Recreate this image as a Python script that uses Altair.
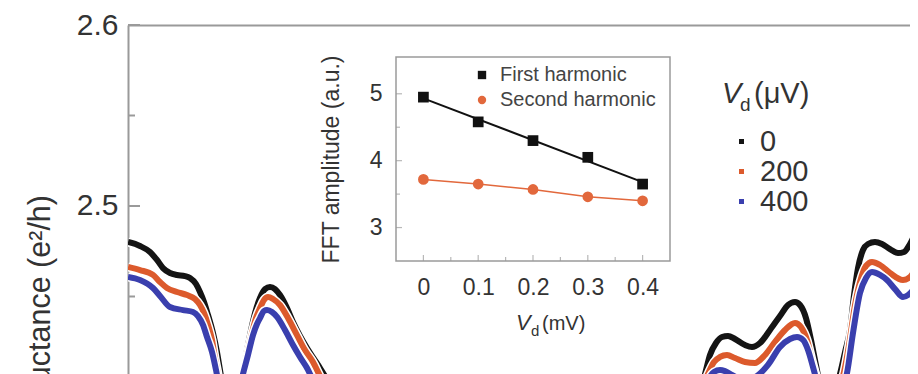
import altair as alt
import pandas as pd

FONT = "Liberation Sans"
TXT = "#333333"
FRAME = "#9a9a9a"

# ---------------- main panel: conductance traces (x in arbitrary gate units) ----------------
series_names = ["0", "200", "400"]
series_colors = ["#141414", "#dc5a2c", "#3a3fae"]

black_x = [0.00, 0.12, 0.22, 0.29, 0.35, 0.42, 0.49, 0.57, 0.62, 0.68, 0.72, 0.76, 0.80, 0.85, 0.89, 0.93,
           0.98, 1.04, 1.11, 1.15, 1.19, 1.22, 1.27, 1.32, 1.37, 1.42, 1.47, 1.52, 1.59, 1.65, 1.72, 1.79,
           1.86, 1.92, 1.98, 2.07, 2.80, 3.80, 4.80, 5.60, 5.72, 5.77, 5.82, 5.88, 5.94, 6.00, 6.07, 6.17,
           6.24, 6.32, 6.42, 6.52, 6.60, 6.67, 6.72, 6.78, 6.83, 6.87, 6.91, 6.98, 7.06, 7.12, 7.17, 7.22,
           7.26, 7.30, 7.35, 7.40, 7.47, 7.54, 7.62, 7.70, 7.76, 7.82, 7.90]
black_y = [2.4801, 2.4779, 2.4746, 2.4702, 2.4657, 2.4630, 2.4619, 2.4613, 2.4602, 2.4569, 2.4525, 2.4470,
           2.4398, 2.4298, 2.4193, 2.4061, 2.3928, 2.3873, 2.3983, 2.4083, 2.4204, 2.4287, 2.4409, 2.4492,
           2.4541, 2.4552, 2.4541, 2.4508, 2.4436, 2.4359, 2.4282, 2.4215, 2.4155, 2.4105, 2.4050, 2.3956,
           2.3818, 2.3818, 2.3818, 2.3873, 2.3983, 2.4072, 2.4177, 2.4243, 2.4276, 2.4282, 2.4265, 2.4232,
           2.4221, 2.4243, 2.4315, 2.4392, 2.4453, 2.4470, 2.4453, 2.4381, 2.4260, 2.4149, 2.4039, 2.3928,
           2.3972, 2.4072, 2.4193, 2.4315, 2.4508, 2.4657, 2.4757, 2.4790, 2.4801, 2.4790, 2.4762, 2.4740,
           2.4746, 2.4790, 2.4884]

red_x = [0.00, 0.12, 0.25, 0.32, 0.39, 0.49, 0.59, 0.67, 0.72, 0.76, 0.80, 0.84, 0.87, 0.90, 0.94, 1.02,
         1.10, 1.15, 1.19, 1.24, 1.28, 1.32, 1.36, 1.40, 1.45, 1.52, 1.60, 1.69, 1.77, 1.85, 1.91, 1.98,
         2.07, 2.80, 3.80, 4.80, 5.60, 5.72, 5.80, 5.86, 5.92, 5.99, 6.07, 6.17, 6.27, 6.37, 6.47, 6.57,
         6.67, 6.73, 6.79, 6.84, 6.88, 6.94, 7.02, 7.10, 7.16, 7.21, 7.27, 7.32, 7.38, 7.44, 7.52, 7.62,
         7.75, 7.82, 7.90]
red_y = [2.4663, 2.4646, 2.4619, 2.4580, 2.4547, 2.4525, 2.4508, 2.4486, 2.4453, 2.4409, 2.4343, 2.4260,
         2.4160, 2.4072, 2.3956, 2.3873, 2.3956, 2.4072, 2.4177, 2.4298, 2.4381, 2.4436, 2.4481, 2.4497,
         2.4486, 2.4453, 2.4381, 2.4287, 2.4204, 2.4138, 2.4072, 2.3994, 2.3928, 2.3818, 2.3818, 2.3818,
         2.3873, 2.3956, 2.4072, 2.4138, 2.4166, 2.4177, 2.4160, 2.4138, 2.4133, 2.4177, 2.4249, 2.4315,
         2.4354, 2.4331, 2.4260, 2.4149, 2.4066, 2.3956, 2.3901, 2.3983, 2.4083, 2.4232, 2.4453, 2.4580,
         2.4669, 2.4691, 2.4674, 2.4630, 2.4591, 2.4608, 2.4674]

blue_x = [0.00, 0.12, 0.25, 0.32, 0.42, 0.55, 0.65, 0.70, 0.75, 0.79, 0.84, 0.88, 0.91, 0.97, 1.04, 1.10,
          1.15, 1.20, 1.25, 1.29, 1.32, 1.36, 1.39, 1.44, 1.49, 1.57, 1.65, 1.72, 1.79, 1.84, 1.92, 2.80,
          3.80, 4.80, 5.60, 5.72, 5.80, 5.86, 5.92, 5.97, 6.04, 6.17, 6.29, 6.40, 6.52, 6.62, 6.69, 6.75,
          6.80, 6.85, 6.90, 6.98, 7.10, 7.19, 7.25, 7.32, 7.38, 7.44, 7.52, 7.59, 7.67, 7.75, 7.85, 7.90]
blue_y = [2.4608, 2.4591, 2.4547, 2.4503, 2.4442, 2.4425, 2.4414, 2.4392, 2.4343, 2.4276, 2.4193, 2.4094,
          2.4011, 2.3901, 2.3873, 2.3956, 2.4072, 2.4177, 2.4287, 2.4348, 2.4381, 2.4420, 2.4425, 2.4414,
          2.4387, 2.4315, 2.4232, 2.4166, 2.4105, 2.4050, 2.3972, 2.3818, 2.3818, 2.3818, 2.3873, 2.3928,
          2.4039, 2.4083, 2.4094, 2.4088, 2.4066, 2.4039, 2.4061, 2.4122, 2.4221, 2.4265, 2.4276, 2.4260,
          2.4204, 2.4110, 2.4011, 2.3901, 2.3956, 2.4077, 2.4298, 2.4519, 2.4602, 2.4635, 2.4619, 2.4591,
          2.4541, 2.4497, 2.4536, 2.4580]

main_major_ticks = [2.5, 2.6]
main_minor_ticks = [2.45, 2.55]

# ---------------- inset: FFT amplitudes ----------------
inset_vd = [0.0, 0.1, 0.2, 0.3, 0.4]
first_harmonic = [4.95, 4.58, 4.30, 4.05, 3.65]
second_harmonic = [3.72, 3.65, 3.57, 3.46, 3.40]
inset_series = ["First harmonic", "Second harmonic"]
inset_colors = ["#111111", "#e2683c"]
inset_x_major = [0.0, 0.1, 0.2, 0.3, 0.4]
inset_x_minor = [0.05, 0.15, 0.25, 0.35]
inset_y_major = [3, 4, 5]
inset_y_minor = [3.5, 4.5]

# ---------------- tables ----------------
rows = []
for name, xs, ys in zip(series_names, [black_x, red_x, blue_x], [black_y, red_y, blue_y]):
    for a, b in zip(xs, ys):
        rows.append({"vg": a, "G": b, "vd": name})
main_df = pd.DataFrame(rows)

inset_rows = []
for name, vals in zip(inset_series, [first_harmonic, second_harmonic]):
    for a, b in zip(inset_vd, vals):
        inset_rows.append({"vd": a, "amp": b, "series": name})
inset_df = pd.DataFrame(inset_rows)

W, H = 782, 349

x_main = alt.X("vg:Q", scale=alt.Scale(domain=[0, 7.82], nice=False, zero=False),
               axis=alt.Axis(orient="top", labels=False, ticks=False, grid=False, title=None,
                             domainColor=FRAME, domainWidth=2))
y_main = alt.Y("G:Q", scale=alt.Scale(domain=[2.40718, 2.6], nice=False, zero=False),
               axis=alt.Axis(orient="left", values=main_major_ticks, format=".1f", ticks=False, grid=False,
                             title=None, labelFontSize=30, labelPadding=10, labelColor=TXT,
                             domainColor=FRAME, domainWidth=2))
stroke_enc = alt.Stroke("vd:N", scale=alt.Scale(domain=series_names, range=series_colors),
                        legend=alt.Legend(orient="none", legendX=599, legendY=102, title="",
                                          symbolSize=25, symbolStrokeWidth=5,
                                          labelFontSize=29, labelColor=TXT, labelFont=FONT,
                                          rowPadding=0, padding=0, labelOffset=4))

main_layers = []
for name in series_names:
    base = alt.Chart(main_df).transform_filter(alt.datum.vd == name)
    main_layers.append(base.mark_line(clip=True, interpolate="monotone", strokeWidth=9,
                                      strokeJoin="round")
                       .encode(x=x_main, y=y_main, stroke=alt.value("white")))
    main_layers.append(base.mark_line(clip=True, interpolate="monotone", strokeWidth=6,
                                      strokeJoin="round")
                       .encode(x=x_main, y=y_main, stroke=stroke_enc))

main_layers.append(alt.Chart(pd.DataFrame({"G": main_major_ticks})).mark_rule(color=FRAME, strokeWidth=2)
                   .encode(y=y_main, x=alt.value(0), x2=alt.value(12)))
main_layers.append(alt.Chart(pd.DataFrame({"G": main_minor_ticks})).mark_rule(color=FRAME, strokeWidth=2)
                   .encode(y=y_main, x=alt.value(0), x2=alt.value(7)))


def label(text, x, y, size, italic=False, align="left", angle=0, baseline="alphabetic"):
    return (alt.Chart(pd.DataFrame({"t": [text]}))
            .mark_text(align=align, baseline=baseline, fontSize=size, font=FONT,
                       fontStyle="italic" if italic else "normal", color=TXT, angle=angle)
            .encode(x=alt.value(x), y=alt.value(y), text="t:N"))


main_layers += [
    label("Conductance (e\u00b2/h)", -87, 170, 30.5, align="right", angle=270, baseline="middle"),
    label("V", 594, 78, 29, italic=True),
    label("d", 612, 86, 19),
    label("(\u03bcV)", 626, 78, 29),
    label("V", 388, 305, 22, italic=True),
    label("d", 403, 311, 15),
    label("(mV)", 414, 305, 20),
]
main = alt.layer(*main_layers)

# ---------------- inset layers ----------------
x_in = alt.X("vd:Q", scale=alt.Scale(domain=[-0.05, 0.45], range=[268, 542], nice=False, zero=False),
             axis=alt.Axis(orient="bottom", offset=-(H - 236), values=inset_x_major, format=".1~f",
                           ticks=False, domain=False, grid=False, title=None, labelFontSize=23,
                           labelPadding=15, labelColor=TXT))
y_in = alt.Y("amp:Q", scale=alt.Scale(domain=[2.5, 5.55], range=[236, 32], nice=False, zero=False),
             axis=alt.Axis(orient="left", offset=-268, values=inset_y_major, ticks=False, domain=False,
                           grid=False, title="FFT amplitude (a.u.)", titleFontSize=23, titleFontWeight="normal",
                           titleColor=TXT, titlePadding=26, labelFontSize=23, labelPadding=14,
                           labelColor=TXT))

frame = (alt.Chart(pd.DataFrame({"vd": [-0.05], "vd2": [0.45], "amp": [2.5], "amp2": [5.55]}))
         .mark_rect(fill="white", stroke=FRAME, strokeWidth=1.5)
         .encode(x=x_in, x2="vd2:Q", y=y_in, y2="amp2:Q"))

bx_major = alt.Chart(pd.DataFrame({"vd": inset_x_major, "amp": [2.5] * len(inset_x_major)})).mark_tick(
    orient="vertical", size=6, thickness=1.2, color=FRAME, yOffset=-3).encode(x=x_in, y=y_in)
bx_minor = alt.Chart(pd.DataFrame({"vd": inset_x_minor, "amp": [2.5] * len(inset_x_minor)})).mark_tick(
    orient="vertical", size=4, thickness=1.2, color=FRAME, yOffset=-2).encode(x=x_in, y=y_in)
ly_major = alt.Chart(pd.DataFrame({"amp": inset_y_major, "vd": [-0.05] * len(inset_y_major)})).mark_tick(
    orient="horizontal", size=6, thickness=1.2, color=FRAME, xOffset=3).encode(x=x_in, y=y_in)
ly_minor = alt.Chart(pd.DataFrame({"amp": inset_y_minor, "vd": [-0.05] * len(inset_y_minor)})).mark_tick(
    orient="horizontal", size=4, thickness=1.2, color=FRAME, xOffset=2).encode(x=x_in, y=y_in)

fit_line = (alt.Chart(inset_df).transform_filter(alt.datum.series == inset_series[0])
            .transform_regression("vd", "amp")
            .mark_line(color=inset_colors[0], strokeWidth=2).encode(x=x_in, y=y_in))
second_line = (alt.Chart(inset_df).transform_filter(alt.datum.series == inset_series[1])
               .mark_line(color=inset_colors[1], strokeWidth=1.5).encode(x=x_in, y=y_in))

inset_legend = alt.Legend(orient="none", legendX=344, legendY=40, title="", labelFontSize=20,
                          labelColor="#444444", labelFont=FONT, symbolSize=70, rowPadding=5,
                          padding=0, labelOffset=8, symbolStrokeWidth=0)
points = (alt.Chart(inset_df).mark_point(filled=True, opacity=1, size=115)
          .encode(x=x_in, y=y_in,
                  fill=alt.Fill("series:N", scale=alt.Scale(domain=inset_series, range=inset_colors),
                                legend=inset_legend),
                  shape=alt.Shape("series:N", scale=alt.Scale(domain=inset_series, range=["square", "circle"]),
                                  legend=inset_legend)))

inset = alt.layer(frame, bx_major, bx_minor, ly_major, ly_minor, fit_line, second_line, points)

chart = (alt.layer(main, inset)
         .resolve_scale(x="independent", y="independent")
         .properties(width=W, height=H, autosize=alt.AutoSizeParams(type="none"),
                     padding={"left": 120, "top": 17, "right": 0, "bottom": 0}, background="white")
         .configure_view(strokeWidth=0)
         .configure_axis(labelFont=FONT, titleFont=FONT))

chart.save("out.html", embed_options={"renderer": "svg", "actions": False})
